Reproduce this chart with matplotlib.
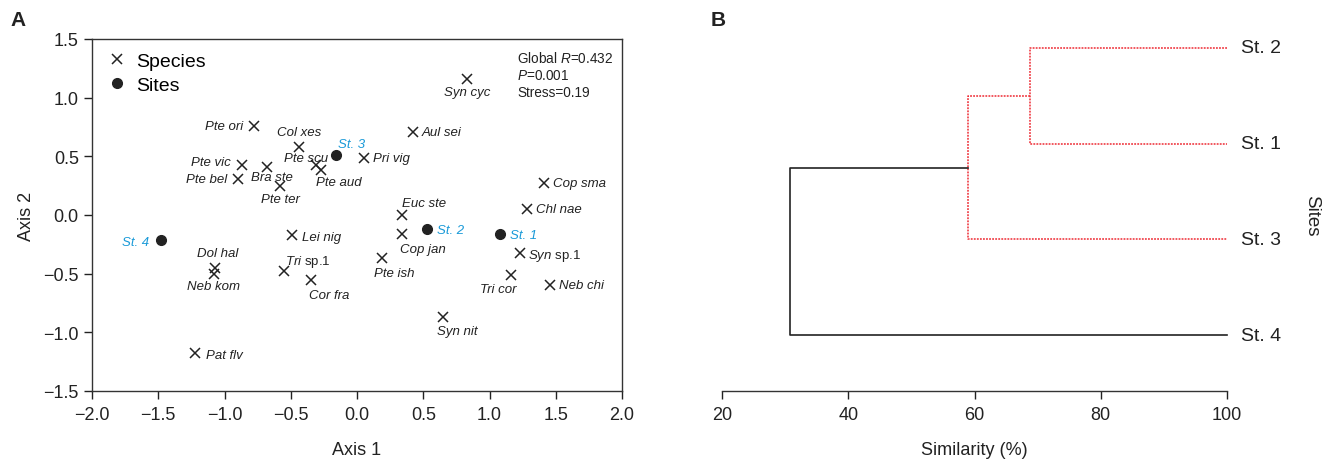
import numpy as np
import matplotlib
matplotlib.use("Agg")
import matplotlib.pyplot as plt
from matplotlib.ticker import FuncFormatter

plt.rcParams['font.family'] = ['Liberation Sans', 'DejaVu Sans']
plt.rcParams['mathtext.fontset'] = 'custom'
plt.rcParams['mathtext.rm'] = 'Liberation Sans'
plt.rcParams['mathtext.it'] = 'Liberation Sans:italic'

# --- data: nMDS ordination (panel A) ---
species = ['Syn cyc', 'Pte ori', 'Col xes', 'Aul sei', 'Pte scu', 'Pte aud', 'Pri vig',
           'Pte vic', 'Bra ste', 'Pte bel', 'Pte ter', 'Euc ste', 'Cop jan', 'Chl nae',
           'Cop sma', 'Syn sp.1', 'Tri cor', 'Neb chi', 'Pte ish', 'Syn nit', 'Dol hal',
           'Neb kom', 'Lei nig', 'Tri sp.1', 'Cor fra', 'Pat flv']
species_x = [0.83, -0.78, -0.44, 0.42, -0.31, -0.27, 0.05,
             -0.87, -0.68, -0.90, -0.58, 0.34, 0.34, 1.28,
             1.41, 1.23, 1.16, 1.46, 0.19, 0.65, -1.07,
             -1.08, -0.49, -0.55, -0.35, -1.22]
species_y = [1.16, 0.76, 0.58, 0.71, 0.43, 0.38, 0.49,
             0.43, 0.41, 0.31, 0.25, 0.00, -0.16, 0.05,
             0.27, -0.32, -0.51, -0.60, -0.37, -0.87, -0.45,
             -0.50, -0.17, -0.48, -0.55, -1.18]
sites = ['St. 1', 'St. 2', 'St. 3', 'St. 4']
sites_x = [1.08, 0.53, -0.16, -1.48]
sites_y = [-0.16, -0.12, 0.51, -0.21]
stats = ['Global $R$=0.432', '$P$=0.001', 'Stress=0.19']

# --- data: cluster dendrogram (panel B) ---
leaves = ['St. 4', 'St. 3', 'St. 1', 'St. 2']       # bottom to top
merge_a = ['St. 2', 'cl1', 'cl2']
merge_b = ['St. 1', 'St. 3', 'St. 4']
merge_sim = [68.8, 59.0, 30.7]
merge_red = [True, True, False]

# label placement (offset in pixels, ha)
lab_pos = {
    'Syn cyc': (0, -13, 'center'), 'Pte ori': (-10, 0, 'right'), 'Col xes': (0, 15, 'center'),
    'Aul sei': (9, 0, 'left'), 'Pte scu': (-10, 7, 'center'), 'Pte aud': (18, -12, 'center'),
    'Pri vig': (9, 0, 'left'), 'Pte vic': (-11, 3, 'right'), 'Bra ste': (5, -10, 'center'),
    'Pte bel': (-10, 0, 'right'), 'Pte ter': (0, -13, 'center'), 'Euc ste': (22, 12, 'center'),
    'Cop jan': (21, -15, 'center'), 'Chl nae': (9, 0, 'left'), 'Cop sma': (9, 0, 'left'),
    'Syn sp.1': (8, -2, 'left'), 'Tri cor': (-12, -14, 'center'), 'Neb chi': (9, 0, 'left'),
    'Pte ish': (12, -15, 'center'), 'Syn nit': (14, -14, 'center'), 'Dol hal': (2, 15, 'center'),
    'Neb kom': (0, -12, 'center'), 'Lei nig': (10, -2, 'left'), 'Tri sp.1': (24, 10, 'center'),
    'Cor fra': (19, -15, 'center'), 'Pat flv': (11, -2, 'left'),
    'St. 1': (10, -1, 'left'), 'St. 2': (10, -1, 'left'), 'St. 3': (16, 11, 'center'),
    'St. 4': (-12, -2, 'right'),
}

site_blue = '#1a9ad8'
red = '#ee2a33'
ink = '#222222'
W, H = 1326, 460

fig = plt.figure(figsize=(W / 100, H / 100), dpi=100)
axA = fig.add_axes([92 / W, 1 - 392 / H, 530 / W, 352 / H])
axB = fig.add_axes([722 / W, 1 - 392 / H, 505 / W, 352 / H])

minus_fmt = FuncFormatter(lambda v, p: ('%.1f' % v).replace('-', '\u2212'))

# ---------------- panel A ----------------
axA.plot(species_x, species_y, 'x', color=ink, ms=7, mew=1.1, ls='none', label='Species')
axA.plot(sites_x, sites_y, 'o', color=ink, ms=7, ls='none', label='Sites')

for name, x, y in zip(species, species_x, species_y):
    dx, dy, ha = lab_pos[name]
    if 'sp.' in name:
        genus, rest = name.split(' ')
        txt, style = '$' + genus + '$ ' + rest, 'normal'
    else:
        txt, style = name, 'italic'
    axA.annotate(txt, (x, y), xytext=(dx, dy), textcoords='offset pixels',
                 ha=ha, va='center', fontsize=9.5, style=style, color=ink)
for name, x, y in zip(sites, sites_x, sites_y):
    dx, dy, ha = lab_pos[name]
    axA.annotate(name, (x, y), xytext=(dx, dy), textcoords='offset pixels',
                 ha=ha, va='center', fontsize=9.5, style='italic', color=site_blue)

axA.text(1.21, 1.41, '\n'.join(stats), fontsize=9.8, va='top', ha='left',
         linespacing=1.3, color=ink)

axA.set_xlim(-2.0, 2.0)
axA.set_ylim(-1.5, 1.5)
axA.set_xticks(np.arange(-2.0, 2.01, 0.5))
axA.set_yticks(np.arange(-1.5, 1.51, 0.5))
axA.xaxis.set_major_formatter(minus_fmt)
axA.yaxis.set_major_formatter(minus_fmt)
axA.tick_params(direction='out', length=6, width=1, labelsize=13, colors=ink)
axA.tick_params(axis='x', pad=5)
for s in axA.spines.values():
    s.set_linewidth(1)
    s.set_color('#333333')
axA.set_xlabel('Axis 1', fontsize=13, labelpad=13, color=ink)
axA.set_ylabel('Axis 2', fontsize=13, labelpad=6, color=ink)
leg = axA.legend(loc='upper left', frameon=False, fontsize=14, handletextpad=0.35,
                 borderaxespad=0.3, labelspacing=0.3, handlelength=1.2,
                 bbox_to_anchor=(0.0, 1.0))

# ---------------- panel B ----------------
ypos = {name: i for i, name in enumerate(leaves)}
xpos = {name: 100.0 for name in leaves}
for i, (a, b, sim, is_red) in enumerate(zip(merge_a, merge_b, merge_sim, merge_red)):
    kw = dict(color=red, lw=1.1, ls=(0, (1.2, 0.8))) if is_red else dict(color=ink, lw=1.2)
    ya, yb = ypos[a], ypos[b]
    axB.plot([xpos[a], sim, sim, xpos[b]], [ya, ya, yb, yb], clip_on=False, **kw)
    key = 'cl%d' % (i + 1)
    ypos[key] = (ya + yb) / 2
    xpos[key] = sim

for name in leaves:
    axB.annotate(name, (100, ypos[name]), xytext=(14, 0), textcoords='offset pixels',
                 ha='left', va='center', fontsize=14, color=ink)

axB.set_xlim(20, 100)
axB.set_ylim(-0.58, 3.09)
axB.set_xticks([20, 40, 60, 80, 100])
axB.set_yticks([])
for side in ['left', 'right', 'top']:
    axB.spines[side].set_visible(False)
axB.spines['bottom'].set_linewidth(1)
axB.spines['bottom'].set_color('#333333')
axB.tick_params(direction='out', length=6, width=1, labelsize=13, colors=ink, pad=5)
axB.set_xlabel('Similarity (%)', fontsize=13, labelpad=13, color=ink)
axB.text(1.168, 0.5, 'Sites', rotation=270, transform=axB.transAxes,
         ha='center', va='center', fontsize=13.5, color=ink)

fig.text(10 / W, 1 - 20 / H, 'A', fontsize=15, fontweight='bold', va='center', color=ink)
fig.text(711 / W, 1 - 20 / H, 'B', fontsize=15, fontweight='bold', va='center', color=ink)

fig.savefig('out.png', dpi=100)
